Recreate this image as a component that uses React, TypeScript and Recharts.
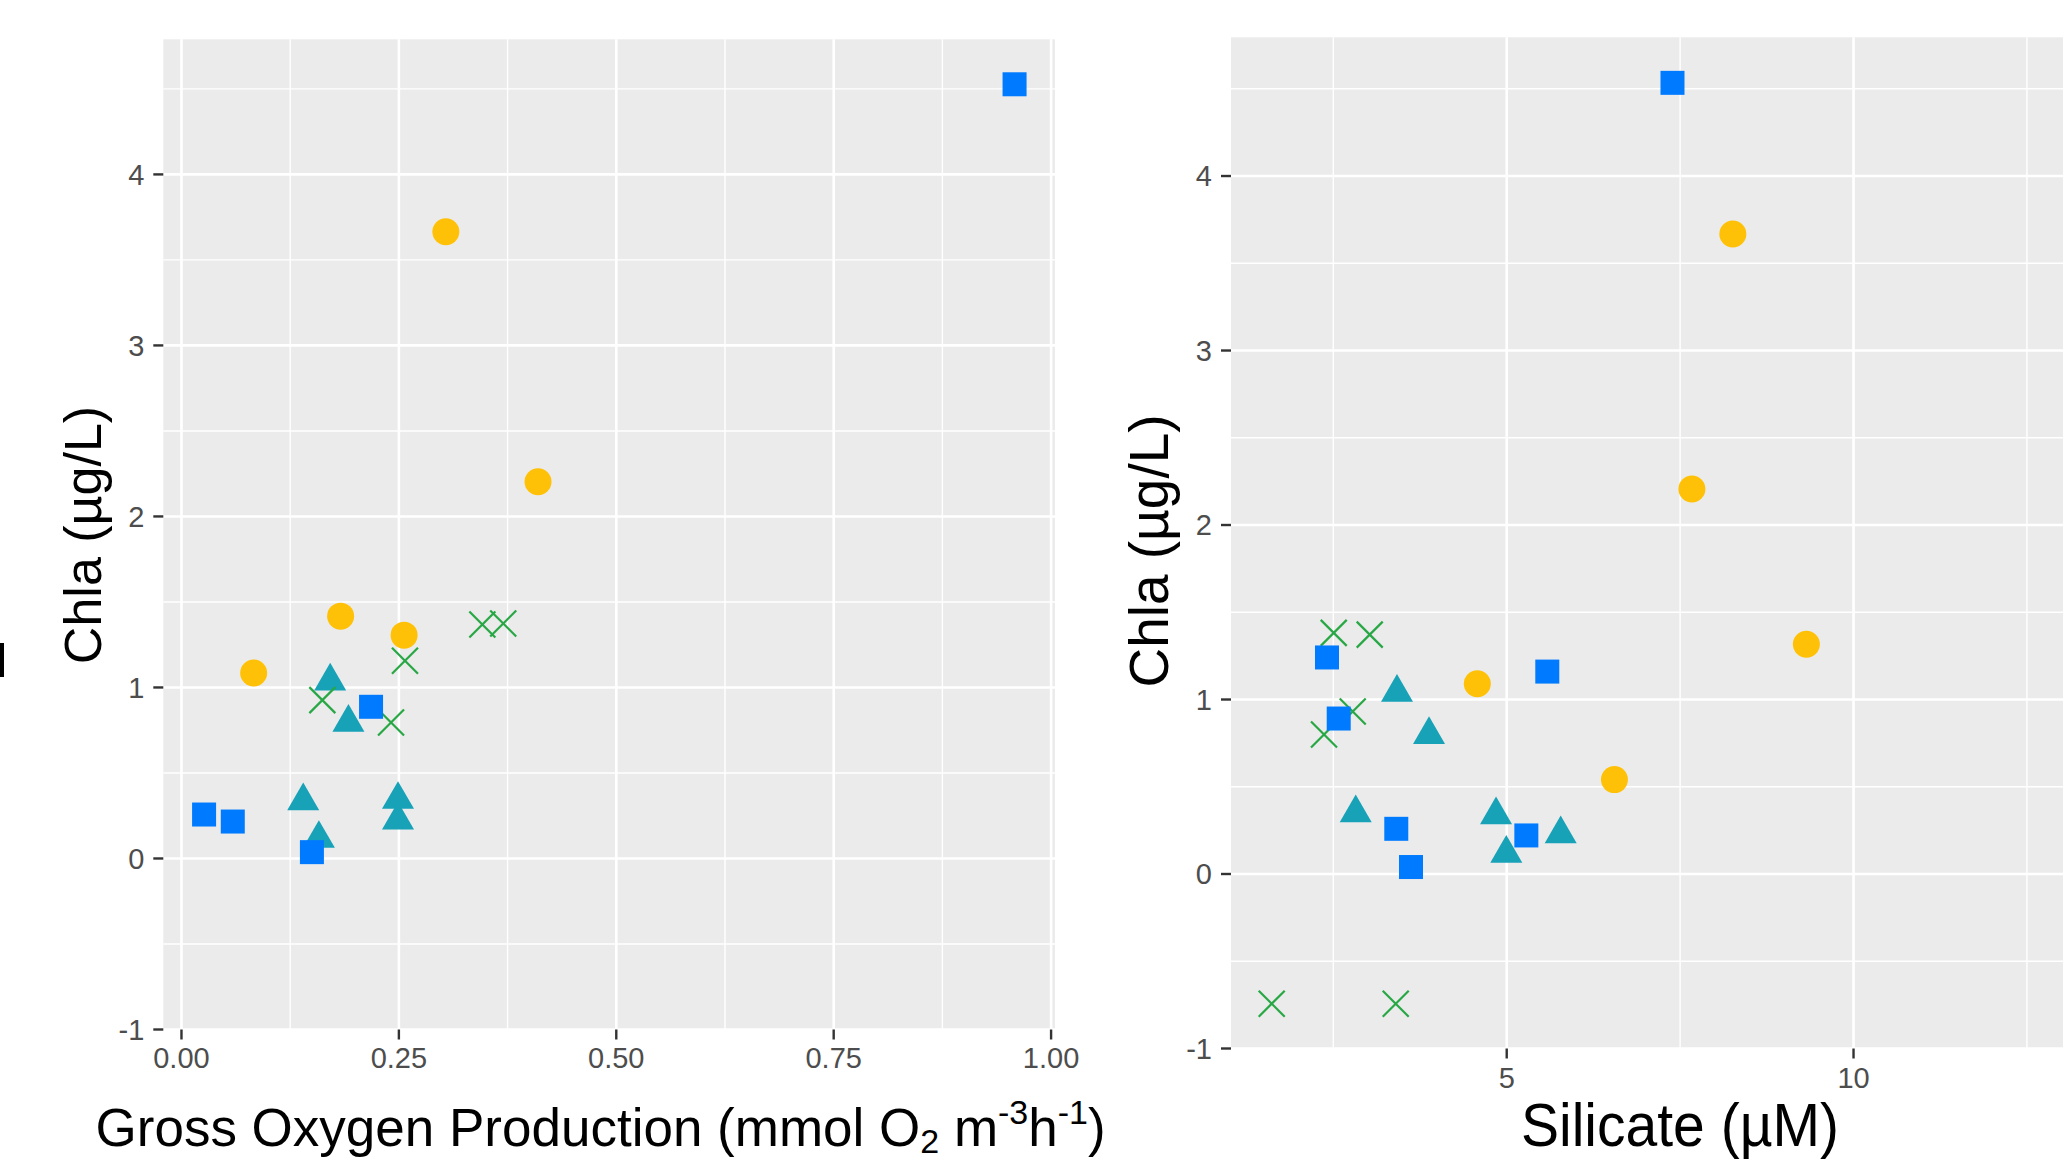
import React from "react";
import {
  ScatterChart,
  Scatter,
  XAxis,
  YAxis,
  CartesianGrid,
} from "recharts";

// ---------- Left panel: Gross Oxygen Production vs Chla ----------
const gopSquareX = [0.026, 0.059, 0.15, 0.218, 0.958];
const gopSquareY = [0.257, 0.216, 0.037, 0.887, 4.527];
const gopCircleX = [0.083, 0.183, 0.256, 0.304, 0.41];
const gopCircleY = [1.085, 1.417, 1.306, 3.665, 2.203];
const gopTriangleX = [0.171, 0.192, 0.14, 0.158, 0.249, 0.249];
const gopTriangleY = [1.036, 0.795, 0.336, 0.116, 0.344, 0.223];
const gopCrossX = [0.162, 0.241, 0.257, 0.346, 0.37];
const gopCrossY = [0.926, 0.795, 1.156, 1.368, 1.374];

const gopXDomain = [-0.0209, 1.0045];
const gopYDomain = [-1.0, 4.79];
const gopXTicks = [0, 0.25, 0.5, 0.75, 1.0];
const gopXMinor = [0.125, 0.375, 0.625, 0.875];
const chlaTicks = [-1, 0, 1, 2, 3, 4];
const chlaMinor = [-0.5, 0.5, 1.5, 2.5, 3.5, 4.5];

// ---------- Right panel: Silicate vs Chla ----------
const silSquareX = [2.409, 2.578, 3.408, 3.62, 5.585, 5.283, 7.39];
const silSquareY = [1.241, 0.891, 0.259, 0.04, 1.16, 0.221, 4.534];
const silCircleX = [4.576, 6.553, 8.26, 7.67, 9.32];
const silCircleY = [1.09, 0.541, 3.668, 2.206, 1.317];
const silTriangleX = [3.418, 3.88, 2.823, 4.846, 4.994, 5.778];
const silTriangleY = [1.04, 0.798, 0.349, 0.338, 0.117, 0.229];
const silCrossX = [2.506, 3.025, 2.78, 2.366, 1.612, 3.4];
const silCrossY = [1.382, 1.372, 0.931, 0.8, -0.743, -0.743];

const silXDomain = [1.025, 13.02];
const silYDomain = [-1.0, 4.795];
const silXTicks = [5, 10];
const silXMinor = [2.5, 7.5, 12.5];

// ---------- styling ----------
const BLUE = "#007BFF";
const YELLOW = "#FFC107";
const TEAL = "#17A2B8";
const GREEN = "#28A745";
const PANEL = "#EBEBEB";
const FONT = '"Liberation Sans", Arial, Helvetica, sans-serif';
const TICK_FONT = 29;

const zip = (xs: number[], ys: number[]) => xs.map((x, i) => ({ x, y: ys[i] }));

const SquareShape = (p: any) => (
  <rect x={p.cx - 12} y={p.cy - 12} width={24} height={24} fill={BLUE} />
);
const CircleShape = (p: any) => <circle cx={p.cx} cy={p.cy} r={13.5} fill={YELLOW} />;
const TriangleShape = (p: any) => (
  <polygon
    points={`${p.cx},${p.cy - 18.5} ${p.cx + 16},${p.cy + 9.2} ${p.cx - 16},${p.cy + 9.2}`}
    fill={TEAL}
  />
);
const CrossShape = (p: any) => (
  <g stroke={GREEN} strokeWidth={2.2}>
    <line x1={p.cx - 13} y1={p.cy - 13} x2={p.cx + 13} y2={p.cy + 13} />
    <line x1={p.cx - 13} y1={p.cy + 13} x2={p.cx + 13} y2={p.cy - 13} />
  </g>
);

const mapAxis = (axis: any, lo: number, len: number, dom: number[], v: number, flip: boolean) => {
  if (axis && typeof axis.scale === "function") {
    const r = axis.scale(v);
    if (typeof r === "number" && !isNaN(r)) return r;
  }
  const t = (v - dom[0]) / (dom[1] - dom[0]);
  return flip ? lo + len - t * len : lo + t * len;
};

const makeGrid = (
  xs: number[],
  ys: number[],
  xDom: number[],
  yDom: number[],
  width: number,
  fill: string
) => (
  <CartesianGrid
    fill={fill}
    fillOpacity={1}
    stroke="#FFFFFF"
    strokeWidth={width}
    strokeDasharray=""
    verticalCoordinatesGenerator={(a: any) =>
      xs.map((v) => mapAxis(a.xAxis, a.offset.left, a.offset.width, xDom, v, false))
    }
    horizontalCoordinatesGenerator={(a: any) =>
      ys.map((v) => mapAxis(a.yAxis, a.offset.top, a.offset.height, yDom, v, true))
    }
  />
);

const tickStyle = { fill: "#4D4D4D", fontSize: TICK_FONT, fontFamily: FONT };
const tickLineStyle = { stroke: "#333333", strokeWidth: 2.4 };

const fmt2 = (v: number) => v.toFixed(2);
const fmtInt = (v: number) => String(v);

const GopXTitle = () => (
  <text
    x={600.6}
    y={1146}
    textAnchor="middle"
    fontFamily={FONT}
    fontSize={53}
    fill="#000000"
  >
    Gross Oxygen Production (mmol O
    <tspan fontSize={34} dy={7}>2</tspan>
    <tspan dy={-7}> m</tspan>
    <tspan fontSize={34} dy={-22}>-3</tspan>
    <tspan dy={22}>h</tspan>
    <tspan fontSize={34} dy={-22}>-1</tspan>
    <tspan dy={22}>)</tspan>
  </text>
);

const ChlaTitle = ({ x, y, size }: { x: number; y: number; size: number }) => (
  <text
    x={x}
    y={y}
    transform={`rotate(-90 ${x} ${y})`}
    textAnchor="middle"
    fontFamily={FONT}
    fontSize={size}
    fill="#000000"
  >
    Chla (µg/L)
  </text>
);

const SilXTitle = () => (
  <text
    x={580}
    y={1146}
    textAnchor="middle"
    fontFamily={FONT}
    fontSize={62}
    textLength={318}
    lengthAdjust="spacingAndGlyphs"
    fill="#000000"
  >
    Silicate (µM)
  </text>
);

export default function App() {
  return (
    <div
      style={{
        position: "absolute",
        left: 0,
        top: 0,
        width: 2063,
        height: 1161,
        overflow: "hidden",
        background: "#FFFFFF",
      }}
    >
      <div
        style={{ position: "absolute", left: 0, top: 643, width: 4, height: 34, background: "#000" }}
      />
      <div style={{ position: "absolute", left: 0, top: 0, width: 1140, height: 1161 }}>
        <ScatterChart
          width={1140}
          height={1161}
          margin={{ top: 39.3, right: 85, bottom: 51.5, left: 0 }}
        >
          {makeGrid(gopXMinor, chlaMinor, gopXDomain, gopYDomain, 1.4, PANEL)}
          {makeGrid(gopXTicks, chlaTicks, gopXDomain, gopYDomain, 2.6, "none")}
          <XAxis
            type="number"
            dataKey="x"
            domain={gopXDomain}
            allowDataOverflow
            ticks={gopXTicks}
            tickFormatter={fmt2}
            height={80}
            axisLine={false}
            tickSize={10}
            tickMargin={8}
            tickLine={tickLineStyle}
            tick={tickStyle}
            interval={0}
            label={{ content: () => <GopXTitle /> }}
          />
          <YAxis
            type="number"
            dataKey="y"
            domain={gopYDomain}
            allowDataOverflow
            ticks={chlaTicks}
            tickFormatter={fmtInt}
            width={163.3}
            axisLine={false}
            tickSize={10}
            tickMargin={9}
            tickLine={tickLineStyle}
            tick={tickStyle}
            interval={0}
            label={{ content: () => <ChlaTitle x={101} y={535} size={52} /> }}
          />
          <Scatter data={zip(gopTriangleX, gopTriangleY)} shape={TriangleShape} isAnimationActive={false} />
          <Scatter data={zip(gopCrossX, gopCrossY)} shape={CrossShape} isAnimationActive={false} />
          <Scatter data={zip(gopCircleX, gopCircleY)} shape={CircleShape} isAnimationActive={false} />
          <Scatter data={zip(gopSquareX, gopSquareY)} shape={SquareShape} isAnimationActive={false} />
        </ScatterChart>
      </div>
      <div style={{ position: "absolute", left: 1100, top: 0, width: 963, height: 1161 }}>
        <ScatterChart
          width={963}
          height={1161}
          margin={{ top: 37.3, right: 0, bottom: 32.5, left: 0 }}
        >
          {makeGrid(silXMinor, chlaMinor, silXDomain, silYDomain, 1.4, PANEL)}
          {makeGrid(silXTicks, chlaTicks, silXDomain, silYDomain, 2.6, "none")}
          <XAxis
            type="number"
            dataKey="x"
            domain={silXDomain}
            allowDataOverflow
            ticks={silXTicks}
            tickFormatter={fmtInt}
            height={80}
            axisLine={false}
            tickSize={10}
            tickMargin={9}
            tickLine={tickLineStyle}
            tick={tickStyle}
            interval={0}
            label={{ content: () => <SilXTitle /> }}
          />
          <YAxis
            type="number"
            dataKey="y"
            domain={silYDomain}
            allowDataOverflow
            ticks={chlaTicks}
            tickFormatter={fmtInt}
            width={131}
            axisLine={false}
            tickSize={10}
            tickMargin={9}
            tickLine={tickLineStyle}
            tick={tickStyle}
            interval={0}
            label={{ content: () => <ChlaTitle x={68} y={551} size={55} /> }}
          />
          <Scatter data={zip(silTriangleX, silTriangleY)} shape={TriangleShape} isAnimationActive={false} />
          <Scatter data={zip(silCrossX, silCrossY)} shape={CrossShape} isAnimationActive={false} />
          <Scatter data={zip(silCircleX, silCircleY)} shape={CircleShape} isAnimationActive={false} />
          <Scatter data={zip(silSquareX, silSquareY)} shape={SquareShape} isAnimationActive={false} />
        </ScatterChart>
      </div>
    </div>
  );
}
